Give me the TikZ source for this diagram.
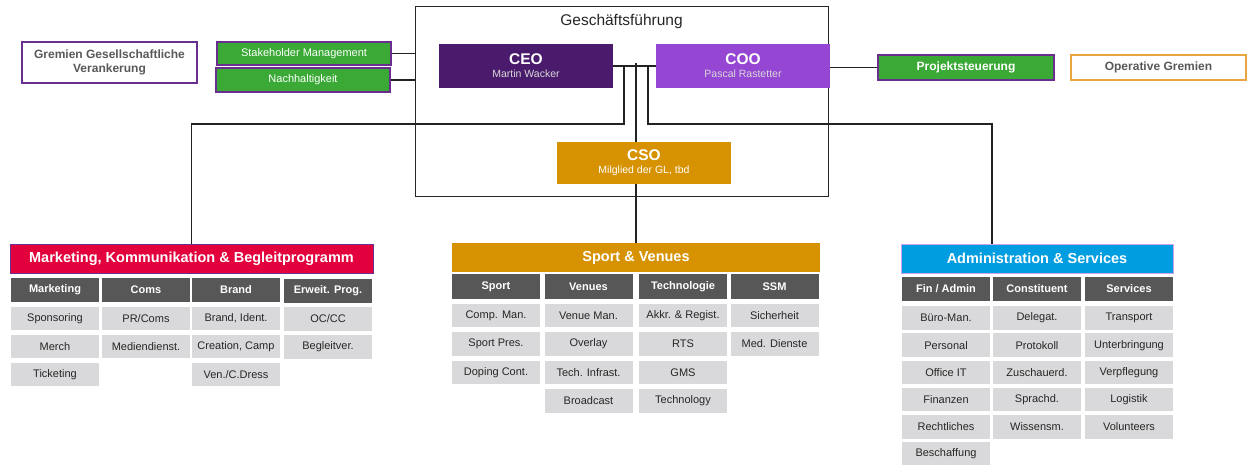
\documentclass[tikz,border=0pt]{standalone}
\usepackage{fontspec}
\setmainfont{Liberation Sans}
\usetikzlibrary{positioning,calc,backgrounds}

\definecolor{ceopurple}{HTML}{4A1A6C}
\definecolor{coopurple}{HTML}{9546D3}
\definecolor{csoorange}{HTML}{D69200}
\definecolor{boxgreen}{HTML}{3AA935}
\definecolor{mkred}{HTML}{E2003D}
\definecolor{admblue}{HTML}{009DE0}
\definecolor{subgray}{HTML}{575757}
\definecolor{itemgray}{HTML}{D9D9DB}
\definecolor{textgray}{HTML}{595959}
\definecolor{linegray}{HTML}{222222}
\definecolor{framepurple}{HTML}{6A2E8E}
\definecolor{lilac}{HTML}{CFA0EE}
\definecolor{gremorange}{HTML}{E9A640}

\begin{document}
\begin{tikzpicture}[x=1pt, y=-1pt,
    exec/.style={minimum width=174pt, minimum height=44pt, align=center, text=white, inner sep=0pt},
    side/.style={draw=framepurple, line width=1.2pt, fill=boxgreen, text=white,
      minimum width=174pt, minimum height=23pt, inner sep=0pt, font=\fontsize{11}{13}\selectfont},
    gremium/.style={draw, line width=1.2pt, fill=white, text=textgray, align=center,
      minimum width=175pt, inner sep=0pt, font=\bfseries\fontsize{12}{14}\selectfont},
    dept/.style={minimum height=29pt, text=white, inner sep=0pt, font=\bfseries\fontsize{14.5}{16}\selectfont},
    subhead/.style={fill=subgray, text=white, minimum width=88pt, minimum height=24pt,
      inner sep=0pt, font=\bfseries\fontsize{11}{13}\selectfont},
    item/.style={fill=itemgray, text=black!85, minimum width=88pt, minimum height=23.5pt,
      inner sep=0pt, font=\fontsize{11}{13}\selectfont},
    conn/.style={draw=linegray, line width=1.2pt}]
  \useasboundingbox (0,0) rectangle (1248,465);

  % Geschaeftsfuehrung
  \node[draw=black!85, line width=1pt, minimum width=413pt, minimum height=190pt] (gf) at (621.5,102) {};
  \node[font=\fontsize{15.5}{17}\selectfont, text=black!85] (gftitle) at ($(gf.north)+(0,15)$) {Geschäftsführung};
  \node[exec, fill=ceopurple] (ceo) at (526,66) {{\fontsize{15.5}{16}\bfseries CEO}\\[1pt]{\fontsize{10.5}{12}\selectfont\color{white!85!black} Martin Wacker}};
  \node[exec, fill=coopurple] (coo) at (743,66) {{\fontsize{15.5}{16}\bfseries COO}\\[1pt]{\fontsize{10.5}{12}\selectfont\color{white!85!black} Pascal Rastetter}};
  \node[exec, fill=csoorange, minimum height=42pt] (cso) at (644,163) {{\fontsize{15.5}{16}\bfseries CSO}\\[1pt]{\fontsize{10.5}{12}\selectfont Milglied der GL, tbd}};

  % Stabsstellen und Gremien
  \node[gremium, draw=framepurple, minimum height=41pt] (gremges) at (109.5,62.5) {Gremien Gesellschaftliche\\Verankerung};
  \node[side] (stake) at (304,53.5) {Stakeholder Management};
  \node[side, minimum height=24pt] (nach) at (303,80) {Nachhaltigkeit};
  \node[side, minimum width=176pt, minimum height=25pt, font=\bfseries\fontsize{12}{14}\selectfont] (proj) at (966,67.5) {Projektsteuerung};
  \node[gremium, draw=gremorange, minimum height=25pt] (gremop) at (1158.5,67.5) {Operative Gremien};

  % Bereiche
  \node[dept, fill=mkred, draw=framepurple, line width=0.8pt, minimum width=363pt] (mk) at (191.5,258.5) {Marketing, Kommunikation \& Begleitprogramm};
  \node[dept, fill=csoorange, minimum width=368pt] (sv) at (636,257.5) {Sport \& Venues};
  \node[dept, fill=admblue, draw=lilac, line width=0.8pt, minimum width=272pt] (adm) at (1037,258.5) {Administration \& Services};

  \node[subhead] (mka) at (55,290) {Marketing};
  \node[subhead] (mkb) at (146,290) {Coms};
  \node[subhead] (mkc) at (236,290) {Brand};
  \node[subhead] (mkd) at (328,290.5) {Erweit. Prog.};
  \node[subhead] (sva) at (496,286.5) {Sport};
  \node[subhead] (svb) at (588.5,286.5) {Venues};
  \node[subhead] (svc) at (683,286.5) {Technologie};
  \node[subhead] (svd) at (774.5,286.5) {SSM};
  \node[subhead] (ada) at (946,289) {Fin / Admin};
  \node[subhead] (adb) at (1037,289) {Constituent};
  \node[subhead] (adc) at (1129,289) {Services};

  \foreach \col/\entries in {mka/{Sponsoring,Merch,Ticketing}, mkb/{PR/Coms,Mediendienst.},
      mkc/{{Brand, Ident.},{Creation, Camp},Ven./C.Dress}, mkd/{OC/CC,Begleitver.}}
    \foreach \t [count=\i] in \entries
      \node[item] (\col-\i) at ($(\col)+(0,{\i*28+0.5})$) {\t};
  \foreach \col/\entries in {sva/{Comp. Man.,Sport Pres.,Doping Cont.}, svb/{Venue Man.,Overlay,Tech. Infrast.,Broadcast},
      svc/{Akkr. \& Regist.,RTS,GMS,Technology}, svd/{Sicherheit,Med. Dienste}}
    \foreach \t [count=\i] in \entries
      \node[item] (\col-\i) at ($(\col)+(0,{\i*28.5+0.5})$) {\t};
  \foreach \col/\entries in {ada/{Büro-Man.,Personal,Office IT,Finanzen,Rechtliches,Beschaffung},
      adb/{Delegat.,Protokoll,Zuschauerd.,Sprachd.,Wissensm.}, adc/{Transport,Unterbringung,Verpflegung,Logistik,Volunteers}}
    \foreach \t [count=\i] in \entries
      \node[item] (\col-\i) at ($(\col)+(0,{\i*27.2+1.8})$) {\t};

  % Verbindungen
  \coordinate (jl) at (624,66);
  \coordinate (bl) at (624,124);
  \coordinate (jc) at (636,63);
  \coordinate (jr) at (648,66);
  \coordinate (br) at (648,124);
  \coordinate (admin-in) at ([xshift=-45pt]adm.north);
  \begin{scope}[on background layer]
    \draw[conn] (ceo) -- (coo);
    \draw[conn] (jl) -- (bl) -| (mk);
    \draw[conn] (jc) -- (sv);
    \draw[conn] (jr) -- (br) -| (admin-in);
    \draw[conn] (stake) -- (stake -| gf.west);
    \draw[conn] (nach) -- (nach -| gf.west);
    \draw[conn] (proj) -- (proj -| gf.east);
  \end{scope}
\end{tikzpicture}
\end{document}
